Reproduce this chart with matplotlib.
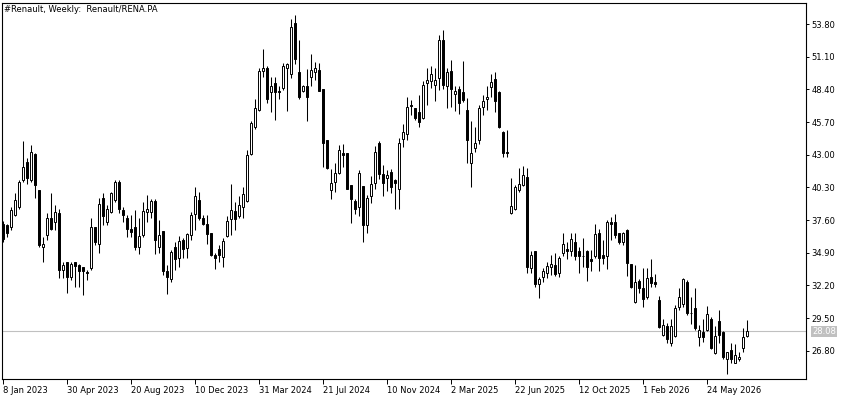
import matplotlib
matplotlib.use("Agg")
import matplotlib.pyplot as plt
import numpy as np
import pandas as pd

# weekly candles, first week = 8 Jan 2023
opens = [
    37.3, 37.2, 37.05, 38.0, 38.7, 40.9, 42.4, 40.9, 43.05, 40.1,
    35.35, 36.35, 37.75, 37.45, 38.15, 33.45, 34.15, 32.9, 34.1, 33.85,
    33.7, 33.3, 33.6, 37.05, 35.65, 39.4, 37.45, 38.3, 39.25, 40.75,
    38.45, 37.8, 36.85, 37.0, 35.4, 36.35, 38.3, 38.25, 39.2, 35.4,
    36.7, 33.4, 32.7, 35.4, 34.5, 35.95, 35.25, 36.35, 38.1, 39.25,
    37.75, 37.25, 36.5, 34.7, 35.2, 34.55, 36.3, 37.65, 38.35, 37.9,
    38.65, 39.2, 43.05, 45.25, 46.7, 49.9, 50.15, 48.15, 48.95, 48.25,
    48.5, 50.2, 49.65, 53.85, 49.85, 48.3, 48.7, 49.45, 49.8, 50.0,
    48.4, 44.2, 40.1, 40.75, 41.45, 43.1, 43.15, 40.5, 39.15, 38.65,
    40.4, 37.2, 39.55, 40.65, 43.95, 41.4, 41.1, 41.55, 40.9, 40.15,
    44.3, 44.75, 47.1, 46.85, 46.5, 46.0, 48.95, 49.1, 48.8, 49.3,
    52.5, 48.65, 49.9, 48.0, 48.45, 48.15, 46.7, 42.3, 43.55, 44.2,
    46.95, 47.6, 48.6, 49.25, 48.15, 44.9, 43.25, 38.15, 38.5, 40.05,
    40.5, 41.15, 33.6, 35.0, 32.35, 32.85, 33.2, 33.7, 33.9, 33.2,
    34.85, 35.2, 35.0, 35.8, 35.0, 34.65, 35.0, 34.4, 34.65, 36.55,
    34.7, 34.65, 37.4, 37.4, 36.5, 35.8, 36.75, 33.95, 30.85, 32.6,
    31.95, 31.2, 32.85, 32.45, 31.0, 28.1, 28.8, 27.4, 28.0, 30.45,
    30.7, 32.5, 29.95, 30.3, 27.95, 28.35, 28.5, 29.45, 26.6, 29.25,
    28.35, 26.15, 26.85, 25.8, 26.1, 27.05, 28.05,
]
highs = [
    37.5, 37.3, 38.7, 39.8, 40.9, 44.1, 42.7, 43.8, 43.1, 40.1,
    36.2, 38.15, 39.8, 38.85, 38.55, 34.15, 34.15, 34.15, 34.15, 34.0,
    33.75, 33.45, 37.75, 37.05, 39.4, 39.8, 38.85, 39.95, 40.9, 40.9,
    38.7, 38.0, 38.0, 38.45, 37.75, 39.1, 39.65, 39.3, 39.3, 37.6,
    36.7, 33.9, 35.1, 35.8, 36.3, 36.1, 36.55, 38.3, 40.3, 39.95,
    38.0, 38.0, 36.5, 34.9, 35.55, 36.15, 37.9, 40.55, 39.05, 39.55,
    40.35, 43.4, 45.75, 47.6, 50.15, 51.7, 50.35, 49.4, 49.45, 48.7,
    50.6, 50.55, 54.2, 54.55, 52.5, 48.75, 50.05, 51.3, 50.7, 50.6,
    48.4, 44.2, 41.8, 42.3, 43.8, 43.9, 43.15, 40.5, 39.3, 41.7,
    40.4, 39.65, 41.2, 43.75, 44.1, 42.15, 41.75, 41.8, 41.0, 44.35,
    45.5, 47.8, 47.5, 46.9, 47.95, 49.1, 50.2, 50.3, 50.15, 52.9,
    53.3, 50.15, 50.85, 48.65, 48.7, 50.75, 47.65, 45.75, 45.25, 47.1,
    47.95, 48.65, 49.7, 49.8, 48.3, 45.0, 45.05, 41.05, 40.5, 41.9,
    42.05, 41.9, 35.0, 35.05, 32.85, 33.6, 34.15, 34.7, 34.85, 34.65,
    36.5, 35.8, 36.5, 36.55, 35.4, 36.15, 35.1, 35.1, 37.3, 36.9,
    35.95, 37.6, 37.85, 38.1, 36.5, 36.65, 36.9, 33.95, 33.9, 32.7,
    33.6, 33.6, 34.35, 33.15, 31.3, 29.45, 29.1, 29.4, 30.55, 31.95,
    32.8, 32.65, 31.25, 31.95, 28.9, 29.45, 30.5, 29.6, 28.8, 30.15,
    28.45, 26.7, 27.4, 27.35, 26.7, 28.65, 29.35,
]
lows = [
    35.8, 36.2, 36.8, 37.9, 38.55, 40.75, 40.6, 40.75, 39.4, 35.4,
    34.15, 35.95, 36.8, 36.8, 32.8, 32.8, 31.55, 32.65, 32.1, 32.1,
    31.4, 32.65, 33.45, 35.55, 34.85, 37.2, 37.2, 38.15, 39.1, 38.15,
    37.45, 36.2, 36.2, 35.15, 34.8, 36.2, 37.45, 37.75, 34.8, 34.85,
    33.05, 31.5, 32.45, 33.45, 33.7, 34.45, 34.45, 35.95, 36.8, 37.6,
    37.15, 35.6, 34.65, 33.55, 34.15, 33.75, 36.2, 36.35, 36.8, 37.75,
    37.75, 39.05, 42.95, 45.1, 46.65, 49.45, 47.25, 46.5, 45.9, 47.6,
    48.35, 46.65, 49.3, 50.5, 47.6, 48.2, 45.8, 48.65, 49.15, 48.3,
    41.95, 41.8, 39.3, 39.95, 41.4, 42.0, 40.15, 37.35, 38.1, 37.9,
    35.75, 36.5, 39.0, 40.2, 41.0, 39.55, 40.0, 39.8, 38.5, 38.55,
    43.65, 44.2, 46.3, 45.85, 45.25, 45.95, 47.1, 48.5, 47.4, 48.35,
    48.45, 46.85, 46.95, 46.6, 46.35, 47.35, 42.3, 40.35, 43.25, 43.85,
    46.25, 46.7, 47.8, 46.5, 45.2, 42.85, 42.85, 38.1, 38.4, 39.95,
    40.4, 33.2, 33.25, 32.1, 31.15, 32.5, 32.8, 33.05, 33.0, 32.85,
    34.6, 34.35, 34.65, 34.3, 33.25, 33.75, 32.6, 33.4, 34.5, 33.4,
    33.95, 33.55, 35.95, 36.15, 35.6, 35.55, 32.95, 31.95, 30.75, 31.6,
    30.4, 31.05, 32.05, 32.05, 28.65, 28.0, 27.4, 27.15, 27.95, 30.15,
    30.45, 29.75, 29.0, 28.55, 27.2, 27.55, 28.45, 26.9, 26.5, 27.4,
    26.15, 24.9, 25.75, 25.75, 25.95, 26.7, 27.95,
]
closes = [
    36.0, 36.5, 38.45, 39.25, 40.75, 42.0, 41.05, 43.25, 40.5, 35.55,
    35.65, 37.75, 36.9, 38.3, 33.45, 33.9, 32.9, 34.0, 33.8, 33.35,
    33.35, 33.2, 37.05, 35.8, 38.9, 37.9, 38.55, 39.8, 40.75, 38.55,
    38.0, 36.9, 36.65, 35.35, 36.3, 38.35, 38.55, 39.2, 35.95, 36.4,
    33.4, 32.85, 34.95, 34.35, 35.85, 35.2, 36.45, 38.05, 39.55, 37.75,
    37.25, 36.45, 34.7, 34.5, 34.7, 35.85, 37.55, 38.4, 37.65, 38.85,
    39.75, 43.0, 45.6, 46.85, 49.9, 50.15, 47.6, 48.7, 48.15, 48.2,
    50.35, 50.5, 53.55, 50.95, 47.8, 48.65, 47.75, 50.0, 50.2, 48.3,
    44.0, 41.9, 40.7, 41.45, 43.4, 43.0, 40.15, 39.3, 38.5, 41.45,
    37.2, 39.4, 40.55, 43.2, 41.4, 40.7, 41.3, 40.35, 40.7, 43.95,
    44.9, 46.95, 47.0, 46.05, 45.7, 48.8, 49.15, 49.65, 49.15, 52.5,
    48.8, 49.85, 48.45, 48.3, 47.25, 47.5, 44.2, 43.1, 44.0, 46.9,
    47.45, 47.8, 49.05, 47.4, 45.3, 43.1, 43.15, 38.75, 40.35, 40.6,
    41.35, 33.75, 34.7, 32.3, 32.75, 33.35, 33.8, 33.95, 33.15, 34.5,
    35.6, 35.0, 36.0, 34.65, 34.6, 34.6, 33.75, 34.25, 36.45, 34.45,
    34.5, 37.45, 37.3, 36.35, 35.8, 36.55, 34.05, 32.05, 32.5, 31.95,
    31.1, 32.8, 32.4, 32.35, 28.75, 28.9, 27.8, 28.8, 30.3, 31.25,
    32.7, 29.95, 29.9, 28.65, 28.5, 27.95, 29.85, 27.0, 28.0, 28.1,
    26.3, 26.7, 26.1, 26.45, 26.25, 27.9, 28.4,
]
weeks = pd.date_range("2023-01-08", periods=len(closes), freq="W-SUN")
y_ticks = np.arange(26.8, 53.81, 2.7)
x_tick_idx = list(range(0, len(closes), 16))
title = "#Renault, Weekly:  Renault/RENA.PA"
bid_label = "28.08"

plt.rcParams["font.family"] = ["DejaVu Sans"]

o = np.array(opens)
h = np.array(highs)
l = np.array(lows)
c = np.array(closes)
idx = np.arange(len(c))
up = c >= o

fig = plt.figure(figsize=(8.5, 4), dpi=100)
ax = fig.add_axes([1.5 / 850, 21 / 400, 804.5 / 850, 376 / 400])

ax.vlines(idx, l, h, color="black", linewidth=0.75, zorder=2)
bottoms = np.minimum(o, c)
heights = np.maximum(np.abs(c - o), 0.04)
ax.bar(idx[up], heights[up], bottom=bottoms[up], width=0.55,
       facecolor="white", edgecolor="black", linewidth=0.7, zorder=3)
ax.bar(idx[~up], heights[~up], bottom=bottoms[~up], width=0.55,
       facecolor="black", edgecolor="black", linewidth=0.7, zorder=3)

# bid line
ax.axhline(c[-1], color="#c0c0c0", linewidth=0.8, zorder=1)
ax.annotate(bid_label, xy=(1.0, c[-1]), xycoords=("axes fraction", "data"),
            xytext=(4.5, 0), textcoords="offset points", va="center", ha="left",
            fontsize=6, color="white",
            bbox=dict(boxstyle="square,pad=0.12", facecolor="#c0c0c0", edgecolor="none"),
            annotation_clip=False)

ax.set_xlim(-0.375, 200.75)
ax.set_ylim(24.46, 55.54)

ax.yaxis.tick_right()
ax.set_yticks(y_ticks)
ax.set_yticklabels([f"{v:.2f}" for v in y_ticks])
ax.tick_params(axis="y", direction="out", length=2.5, width=0.7, pad=1.5,
               labelsize=6, colors="black")

ax.set_xticks(x_tick_idx)
ax.set_xticklabels([f"{weeks[i].day} {weeks[i]:%b %Y}" for i in x_tick_idx],
                   ha="left")
ax.tick_params(axis="x", direction="out", length=3.5, width=0.7, pad=1.5,
               labelsize=6, colors="black")
for lab in ax.get_xticklabels():
    lab.set_x(lab.get_position()[0])

for sp in ax.spines.values():
    sp.set_linewidth(0.8)
    sp.set_color("black")

fig.text(4 / 850, 1 - 10 / 400, title, fontsize=6, ha="left", va="center")

fig.savefig("out.png", dpi=100)
